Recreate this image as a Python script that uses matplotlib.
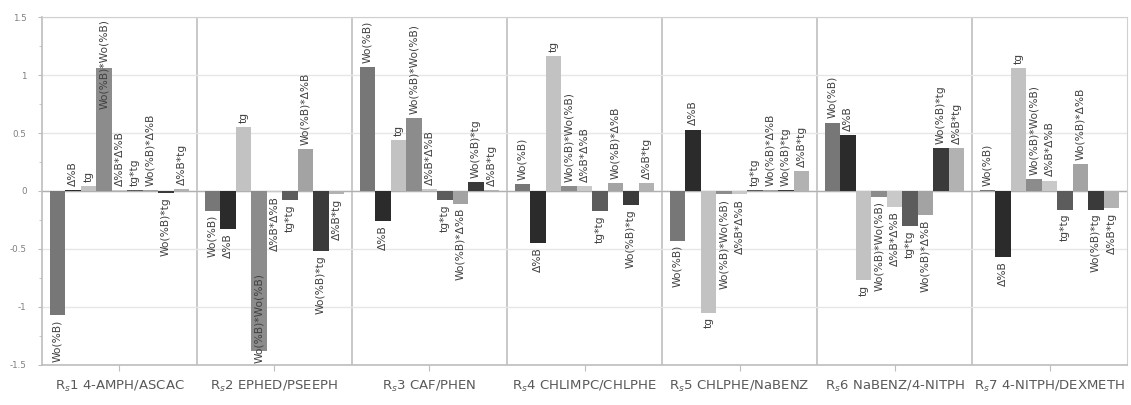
import numpy as np
import matplotlib
matplotlib.use('Agg')
import matplotlib.pyplot as plt
from matplotlib.ticker import MultipleLocator

# группы (разделяемые пары)
groups = ['R$_s$1 4-AMPH/ASCAC', 'R$_s$2 EPHED/PSEEPH', 'R$_s$3 CAF/PHEN',
          'R$_s$4 CHLIMPC/CHLPHE', 'R$_s$5 CHLPHE/NaBENZ', 'R$_s$6 NaBENZ/4-NITPH',
          'R$_s$7 4-NITPH/DEXMETH']

# коэффициенты (по факторам), по группам Rs1..Rs7
wo = [-1.07, -0.17, 1.07, 0.06, -0.43, 0.59, 0.01]
d = [0.01, -0.33, -0.26, -0.45, 0.53, 0.48, -0.57]
tg = [0.04, 0.55, 0.44, 1.16, -1.05, -0.77, 1.06]
wo_wo = [1.06, -1.38, 0.63, 0.04, -0.03, -0.05, 0.10]
d_d = [0.01, -0.01, 0.02, 0.04, -0.03, -0.14, 0.09]
tg_tg = [0.01, -0.08, -0.08, -0.17, 0.01, -0.30, -0.16]
wo_d = [0.01, 0.36, -0.11, 0.07, 0.01, -0.21, 0.23]
wo_tg = [-0.02, -0.52, 0.08, -0.12, 0.01, 0.37, -0.16]
d_tg = [0.02, -0.03, 0.01, 0.07, 0.17, 0.37, -0.15]

series = [wo, d, tg, wo_wo, d_d, tg_tg, wo_d, wo_tg, d_tg]
names = ['Wo(%B)', 'Δ%B', 'tg', 'Wo(%B)*Wo(%B)', 'Δ%B*Δ%B', 'tg*tg',
         'Wo(%B)*Δ%B', 'Wo(%B)*tg', 'Δ%B*tg']
colors = ['#777777', '#2b2b2b', '#c2c2c2', '#8c8c8c', '#c9c9c9', '#5c5c5c',
          '#a3a3a3', '#3a3a3a', '#b2b2b2']

fig = plt.figure(figsize=(11.31, 4.05), dpi=100)
ax = fig.add_axes([0.0371, 0.0988, 0.9594, 0.8592])

x = np.arange(len(groups))
w = 0.1
labels = []
for k in range(len(series)):
    pos = x + (k - 4) * w
    bars = ax.bar(pos, series[k], width=w, color=colors[k], edgecolor='none', zorder=3)
    for b, v in zip(bars, series[k]):
        cx = b.get_x() + b.get_width() / 2
        up = v >= 0
        t = ax.annotate(names[k], (cx, v), xytext=(0, 3 if up else -3),
                        textcoords='offset points', rotation=90, ha='center',
                        va='bottom' if up else 'top', fontsize=7.7,
                        color='#404040', zorder=4)
        labels.append((t, up))

ax.set_xlim(-0.5, len(groups) - 0.5)
ax.set_ylim(-1.5, 1.5)

# сетка и разделители групп
ax.yaxis.set_major_locator(MultipleLocator(0.5))
ax.yaxis.set_minor_locator(MultipleLocator(0.25))
ax.grid(axis='y', which='major', color='#e6e6e6', linewidth=1.0, zorder=0)
for sep in x[:-1] + 0.5:
    ax.axvline(sep, color='#c4c4c4', linewidth=1.3, zorder=1)
ax.axhline(0, color='#b0b0b0', linewidth=1.0, zorder=2)

for s in ['top', 'right']:
    ax.spines[s].set_color('#d0d0d0')
for s in ['left', 'bottom']:
    ax.spines[s].set_color('#bdbdbd')
    ax.spines[s].set_linewidth(1.2)

ax.set_yticks([-1.5, -1, -0.5, 0, 0.5, 1, 1.5])
ax.set_yticklabels(['-1.5', '-1', '-0.5', '0', '0.5', '1', '1.5'])
ax.tick_params(axis='y', which='both', direction='out', colors='#bdbdbd',
               labelcolor='#7f7f7f', labelsize=6.3, length=3, pad=8)
ax.tick_params(axis='y', which='minor', length=2)
ax.set_xticks(x)
ax.set_xticklabels(groups)
ax.tick_params(axis='x', direction='out', colors='#bdbdbd', labelcolor='#595959',
               labelsize=9.5, length=4, pad=6)

# подписи, не влезающие в область графика, сдвигаем внутрь (как в Excel)
fig.canvas.draw()
r = fig.canvas.get_renderer()
abb = ax.get_window_extent(r)
k_pt = 72.0 / fig.dpi
for t, up in labels:
    bb = t.get_window_extent(r)
    if up and bb.y1 > abb.y1 - 2:
        t.xyann = (0, 3 - (bb.y1 - abb.y1 + 2) * k_pt)
    if not up and bb.y0 < abb.y0 + 2:
        t.xyann = (0, -3 + (abb.y0 + 2 - bb.y0) * k_pt)

plt.savefig('out.png', dpi=100)
